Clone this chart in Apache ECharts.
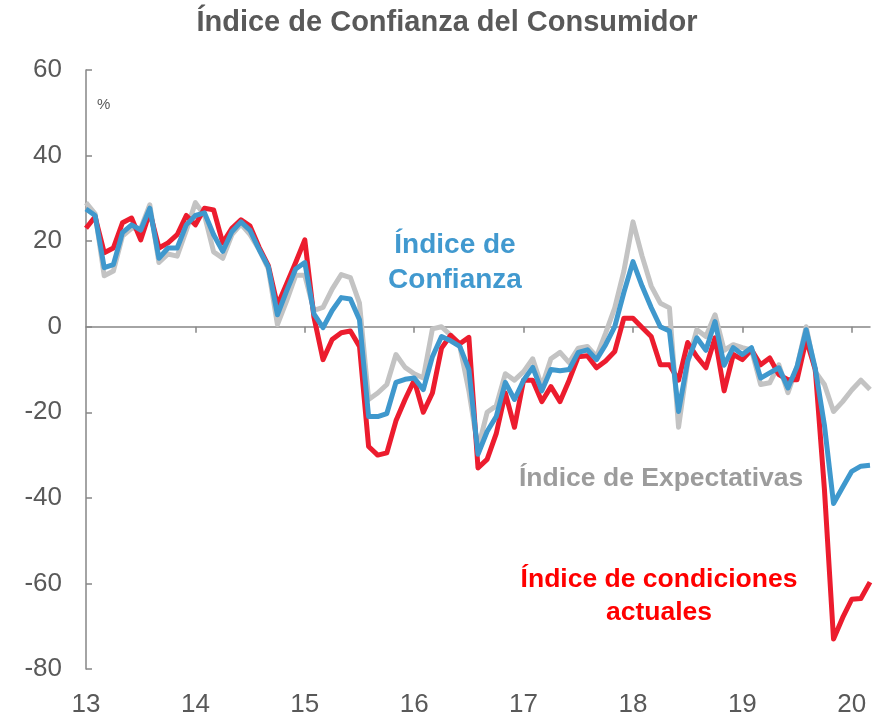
<!DOCTYPE html>
<html>
<head>
<meta charset="utf-8">
<script src="https://cdn.jsdelivr.net/npm/echarts@6/dist/echarts.min.js"></script>
<style>
html,body{margin:0;padding:0;background:#fff;}
#chart{width:894px;height:718px;}
</style>
</head>
<body>
<div id="chart"></div>
<script>
// Monthly data, first point at year-mark "13"
const startYear = 13;
const yearTicks = [13, 14, 15, 16, 17, 18, 19, 20];
const yTicks = [-80, -60, -40, -20, 0, 20, 40, 60];

const expectativas = [
  29, 26.4, 11.9, 13, 21.2, 23, 23, 28.5, 15, 17, 16.5, 22.5,
  29, 26, 17.5, 16, 21.5, 24, 21.5, 18, 13.5, 0.5, 6, 12,
  12, 3.8, 4.5, 8.8, 12.2, 11.5, 5.5, -17, -15.5, -13.5, -6.5, -9.5,
  -11, -12, -0.5, 0, -2, -4.5, -15, -28.5, -20, -18.5, -11, -12.5,
  -10.5, -7.5, -14, -7.5, -6, -8.4, -5, -4.6, -7, -1.5, 4.4, 13,
  24.5, 16.5, 9.5, 5.5, 4.4, -23.5, -8.4, -0.7, -2.3, 2.8, -5.5, -4.2,
  -4.9, -5.4, -13.5, -13.1, -8.9, -15.4, -9.3, 0, -10.5, -13.5, -19.8, -17.5,
  -14.8, -12.5, -14.7
];
const condiciones = [
  23, 25.7, 17.3, 18.4, 24.3, 25.4, 20.3, 26.8, 18.4, 19.6, 21.5, 26,
  23.8, 27.7, 27.3, 19.6, 23, 25, 23.5, 18.5, 14.3, 5, 10, 15,
  20.3, 2.3, -7.7, -3, -1.4, -1, -4.6, -28, -30, -29.5, -22, -17,
  -12.5, -20, -15.5, -5, -2, -4, -2.5, -33, -31, -25, -15.5, -23.5,
  -12.5, -12.5, -17.5, -14, -17.5, -12.5, -7, -6.8, -9.6, -8, -5.8, 2,
  2, -0.2, -2.3, -8.9, -8.9, -12.5, -3.7, -7, -9.6, -2.6, -15, -6.5,
  -7.7, -5.4, -8.9, -7.3, -11.2, -12.4, -12.4, -3, -10, -38, -73, -68,
  -63.7, -63.5, -59.7
];
const confianza = [
  27.5, 26, 13.8, 14.5, 22, 23.8, 22.6, 27.7, 16, 18.4, 18.4, 23.8,
  26, 26.6, 21.5, 17.6, 22.2, 24.5, 22.5, 18, 14, 2.8, 8.3, 13.5,
  15, 3, -0.2, 3.8, 6.8, 6.5, 1.6, -21, -21, -20.3, -13, -12.3,
  -12, -14.7, -7, -2.3, -3.3, -4.6, -10, -29.8, -24.5, -21, -13, -17,
  -12.5, -9.5, -15, -10, -10.3, -10, -6, -5.4, -7.7, -4.2, 0, 8,
  15.2, 9.5, 4.5, 0, -1, -19.8, -8, -2.6, -5.5, 1.2, -9, -4.9,
  -6.5, -4.9, -12, -10.8, -9.6, -14.3, -9.3, -0.7, -9.8, -23, -41.3, -37.5,
  -33.8, -32.6, -32.4
];

const toPairs = arr => arr.map((v, i) => [startYear + i / 12, v]);
const xMax = startYear + (confianza.length - 1) / 12;

const FONT = "'Liberation Sans', Arial, sans-serif";
const AXIS = '#868686';
const TXT = '#595959';

const chart = echarts.init(document.getElementById('chart'), null, {renderer: 'canvas'});
chart.setOption({
  animation: false,
  backgroundColor: '#ffffff',
  title: {
    text: 'Índice de Confianza del Consumidor',
    left: 'center', top: 3,
    textStyle: {fontFamily: FONT, fontSize: 29, fontWeight: 'bold', color: TXT}
  },
  grid: {left: 86, right: 24, top: 70, bottom: 48, containLabel: false},
  xAxis: [
    {
      type: 'value', min: startYear, max: xMax, interval: 1,
      axisLine: {show: true, onZero: true, lineStyle: {color: AXIS, width: 1.5}},
      axisTick: {show: true, length: 6, lineStyle: {color: AXIS, width: 1.5}, customValues: yearTicks.slice(1)},
      axisLabel: {show: false},
      splitLine: {show: false}
    },
    {
      type: 'value', min: startYear, max: xMax, interval: 1, position: 'bottom',
      axisLine: {show: false, onZero: false},
      axisTick: {show: false},
      axisLabel: {show: true, margin: 23, fontFamily: FONT, fontSize: 26, color: TXT,
        customValues: yearTicks, formatter: v => String(Math.round(v))},
      splitLine: {show: false}
    }
  ],
  yAxis: {
    type: 'value', min: -80, max: 60, interval: 20,
    axisLine: {show: true, lineStyle: {color: AXIS, width: 1.5}},
    axisTick: {show: true, inside: true, length: 6, lineStyle: {color: AXIS, width: 1.5}},
    axisLabel: {margin: 24, fontFamily: FONT, fontSize: 26, color: TXT,
      customValues: yTicks},
    splitLine: {show: false}
  },
  graphic: [
    {type: 'text', left: 97, top: 97, style: {text: '%', fontFamily: FONT, fontSize: 15, fill: TXT}},
    {type: 'text', x: 455, y: 228, style: {text: 'Índice de\nConfianza', textAlign: 'center',
      fontFamily: FONT, fontSize: 28, fontWeight: 'bold', lineHeight: 35, fill: '#4199CF'}},
    {type: 'text', x: 519, y: 465, style: {text: 'Índice de Expectativas',
      fontFamily: FONT, fontSize: 26.5, fontWeight: 'bold', fill: '#9C9C9C'}},
    {type: 'text', x: 659, y: 563, style: {text: 'Índice de condiciones\nactuales', textAlign: 'center',
      fontFamily: FONT, fontSize: 26.5, fontWeight: 'bold', lineHeight: 33, fill: '#FF0000'}}
  ],
  series: [
    {name: 'Índice de Expectativas', type: 'line', xAxisIndex: 0, data: toPairs(expectativas),
      showSymbol: false, lineStyle: {color: '#C3C3C3', width: 5, join: 'round'}, z: 2},
    {name: 'Índice de condiciones actuales', type: 'line', xAxisIndex: 0, data: toPairs(condiciones),
      showSymbol: false, lineStyle: {color: '#EC1C2E', width: 5, join: 'round'}, z: 3},
    {name: 'Índice de Confianza', type: 'line', xAxisIndex: 0, data: toPairs(confianza),
      showSymbol: false, lineStyle: {color: '#3F98CD', width: 5, join: 'round'}, z: 4}
  ]
});
</script>
</body>
</html>
